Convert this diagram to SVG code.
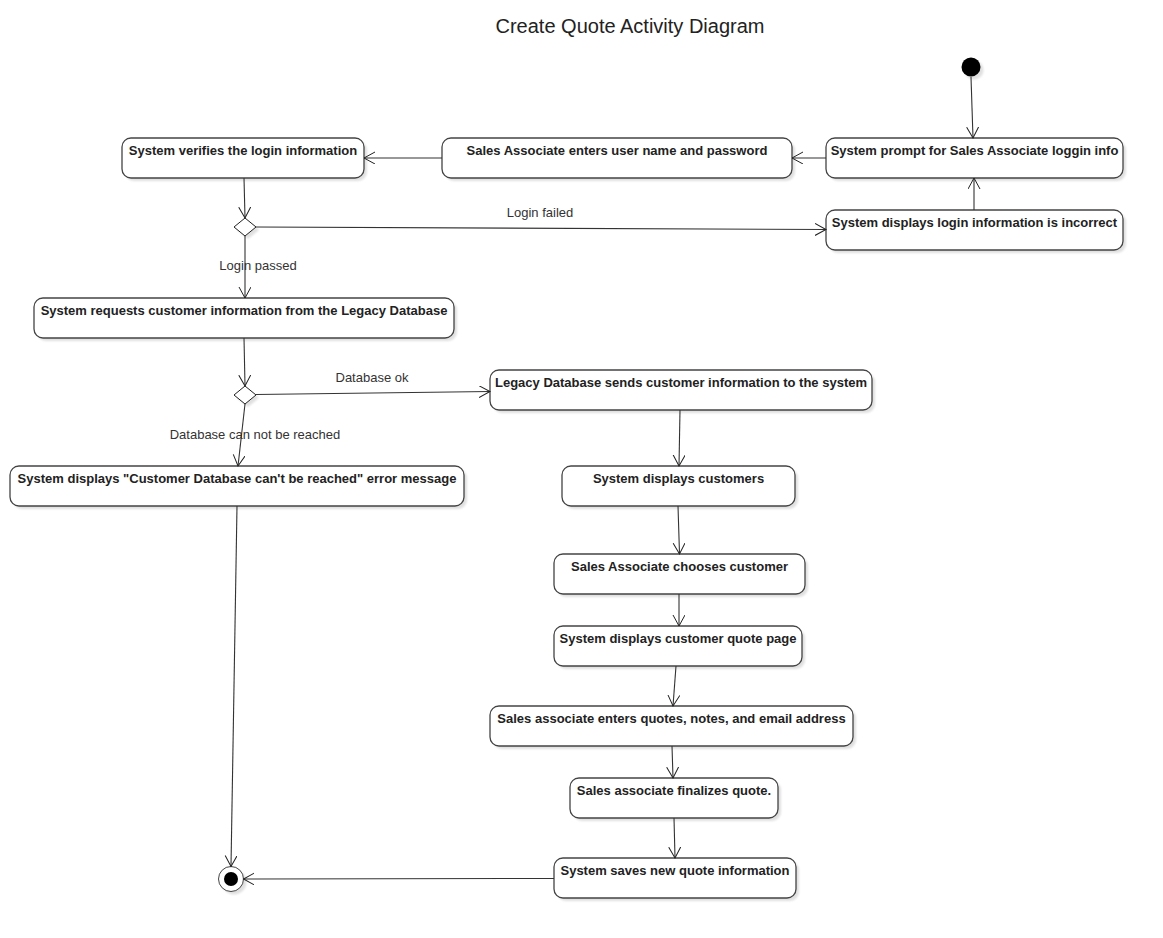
<svg xmlns="http://www.w3.org/2000/svg" width="1163" height="938" viewBox="0 0 1163 938">
<defs>
<marker id="arr" markerUnits="userSpaceOnUse" markerWidth="14" markerHeight="14" refX="11" refY="6" orient="auto">
<path d="M0,0 L11,6 L0,12" fill="none" stroke="#222" stroke-width="1"/>
</marker>
<filter id="sh" x="-10%" y="-30%" width="120%" height="160%">
<feGaussianBlur stdDeviation="1"/>
</filter>
</defs>
<style>
.box{fill:#fff;stroke:#444;stroke-width:1.3}
.shadow{fill:#000;opacity:0.12;filter:url(#sh)}
.t{font-family:"Liberation Sans",Arial,sans-serif;font-size:13px;font-weight:bold;fill:#222;text-anchor:middle}
.lbl{font-family:"Liberation Sans",Arial,sans-serif;font-size:13px;fill:#333;text-anchor:middle}
.c{fill:none;stroke:#333;stroke-width:1.1;marker-end:url(#arr)}
.dia{fill:#fff;stroke:#222;stroke-width:1}
</style>
<rect width="1163" height="938" fill="#fff"/>
<text x="630" y="33" font-family="Liberation Sans, Arial, sans-serif" font-size="20" fill="#222" text-anchor="middle">Create Quote Activity Diagram</text>

<g id="start"><circle cx="974" cy="70" r="9.5" class="shadow"/><circle cx="971" cy="67" r="9.5" fill="#000"/></g>

<g id="n_prompt"><rect class="shadow" x="829" y="141" width="297" height="40" rx="9"/><rect class="box" x="826" y="138" width="297" height="40" rx="9"/><text class="t" x="974.5" y="155">System prompt for Sales Associate loggin info</text></g>
<g id="n_enter"><rect class="shadow" x="445" y="141" width="350" height="40" rx="9"/><rect class="box" x="442" y="138" width="350" height="40" rx="9"/><text class="t" x="617" y="155">Sales Associate enters user name and password</text></g>
<g id="n_verify"><rect class="shadow" x="125" y="141" width="242" height="40" rx="9"/><rect class="box" x="122" y="138" width="242" height="40" rx="9"/><text class="t" x="243" y="155">System verifies the login information</text></g>
<g id="d_login"><polygon class="shadow" points="248,221 259,230 248,239 237,230"/><polygon class="dia" points="245,218 256,227 245,236 234,227"/></g>
<g id="n_incorrect"><rect class="shadow" x="829" y="213" width="297" height="40" rx="9"/><rect class="box" x="826" y="210" width="297" height="40" rx="9"/><text class="t" x="974.5" y="227">System displays login information is incorrect</text></g>
<g id="n_request"><rect class="shadow" x="37" y="301" width="420" height="40" rx="9"/><rect class="box" x="34" y="298" width="420" height="40" rx="9"/><text class="t" x="244" y="315">System requests customer information from the Legacy Database</text></g>
<g id="d_db"><polygon class="shadow" points="248,389 259,398 248,407 237,398"/><polygon class="dia" points="245,386 256,395 245,404 234,395"/></g>
<g id="n_legacy"><rect class="shadow" x="493" y="373" width="382" height="40" rx="9"/><rect class="box" x="490" y="370" width="382" height="40" rx="9"/><text class="t" x="681" y="387">Legacy Database sends customer information to the system</text></g>
<g id="n_error"><rect class="shadow" x="13" y="469" width="454" height="40" rx="9"/><rect class="box" x="10" y="466" width="454" height="40" rx="9"/><text class="t" x="237" y="483">System displays "Customer Database can't be reached" error message</text></g>
<g id="n_customers"><rect class="shadow" x="565" y="469" width="233" height="40" rx="9"/><rect class="box" x="562" y="466" width="233" height="40" rx="9"/><text class="t" x="678.5" y="483">System displays customers</text></g>
<g id="n_choose"><rect class="shadow" x="557" y="557" width="251" height="40" rx="9"/><rect class="box" x="554" y="554" width="251" height="40" rx="9"/><text class="t" x="679.5" y="571">Sales Associate chooses customer</text></g>
<g id="n_quotepage"><rect class="shadow" x="557" y="629" width="248" height="40" rx="9"/><rect class="box" x="554" y="626" width="248" height="40" rx="9"/><text class="t" x="678" y="643">System displays customer quote page</text></g>
<g id="n_enterquote"><rect class="shadow" x="493" y="709" width="363" height="40" rx="9"/><rect class="box" x="490" y="706" width="363" height="40" rx="9"/><text class="t" x="671.5" y="723">Sales associate enters quotes, notes, and email address</text></g>
<g id="n_finalize"><rect class="shadow" x="573" y="781" width="208" height="40" rx="9"/><rect class="box" x="570" y="778" width="208" height="40" rx="9"/><text class="t" x="674" y="795">Sales associate finalizes quote.</text></g>
<g id="n_save"><rect class="shadow" x="557" y="861" width="242" height="40" rx="9"/><rect class="box" x="554" y="858" width="242" height="40" rx="9"/><text class="t" x="675" y="875">System saves new quote information</text></g>
<g id="end"><circle cx="234" cy="882" r="12.5" class="shadow"/><circle cx="231" cy="879" r="12.5" fill="#fff" stroke="#444" stroke-width="1"/><circle cx="231" cy="879" r="7" fill="#000"/></g>

<g id="connectors">
<line class="c" x1="971" y1="77" x2="973" y2="138"/>
<line class="c" x1="826" y1="158" x2="792" y2="158"/>
<line class="c" x1="442" y1="158" x2="364" y2="158"/>
<line class="c" x1="244" y1="178" x2="245" y2="218"/>
<line class="c" x1="256" y1="227" x2="826" y2="229.5"/>
<line class="c" x1="974" y1="210" x2="974" y2="178"/>
<line class="c" x1="245" y1="236" x2="245" y2="298"/>
<line class="c" x1="244" y1="338" x2="245" y2="386"/>
<line class="c" x1="256" y1="394.5" x2="490" y2="391.5"/>
<line class="c" x1="245" y1="404" x2="238" y2="466"/>
<line class="c" x1="237" y1="506" x2="231" y2="866.5"/>
<line class="c" x1="680" y1="410" x2="679" y2="466"/>
<line class="c" x1="678" y1="506" x2="679.5" y2="554"/>
<line class="c" x1="679" y1="594" x2="679" y2="626"/>
<line class="c" x1="676" y1="666" x2="673" y2="706"/>
<line class="c" x1="672" y1="746" x2="673" y2="778"/>
<line class="c" x1="674" y1="818" x2="675" y2="858"/>
<line class="c" x1="554" y1="878.5" x2="243.5" y2="879"/>
<text class="lbl" x="540" y="217">Login failed</text>
<text class="lbl" x="258" y="270">Login passed</text>
<text class="lbl" x="372" y="382">Database ok</text>
<text class="lbl" x="255" y="439">Database can not be reached</text>
</g>
</svg>
